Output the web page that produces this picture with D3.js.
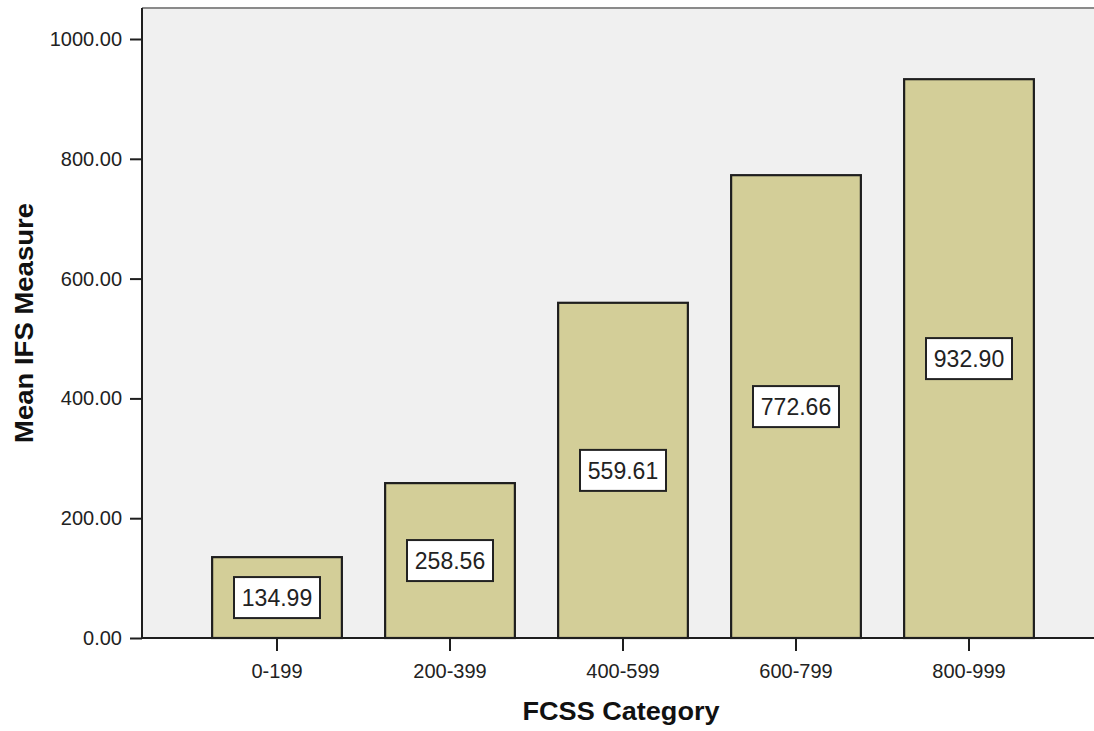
<!DOCTYPE html>
<html>
<head>
<meta charset="utf-8">
<script src="https://cdn.jsdelivr.net/npm/d3@7"></script>
<style>
  html, body { margin: 0; padding: 0; background: #ffffff; }
  svg { display: block; font-family: "Liberation Sans", Arial, sans-serif; }
</style>
</head>
<body>
<svg id="chart" width="1094" height="731"></svg>
<script>
// FCSS category bins and their mean IFS measure
const categories = ["0-199", "200-399", "400-599", "600-799", "800-999"];
const meanIFS = [134.99, 258.56, 559.61, 772.66, 932.90];
const yTicks = [0, 200, 400, 600, 800, 1000];

const svg = d3.select("#chart");
const W = 1094, H = 731;

const plotLeft = 142, plotTop = 8, plotBottom = 638, plotRight = W + 2;

const y = d3.scaleLinear().domain([0, 1000]).range([plotBottom, 39]);
const x = d3.scaleBand()
  .domain(categories)
  .range([190.5, 1055.5])
  .paddingInner(0.25)
  .paddingOuter(0.125);

// plot background
svg.append("rect")
  .attr("x", plotLeft).attr("y", plotTop)
  .attr("width", plotRight - plotLeft).attr("height", plotBottom - plotTop)
  .attr("fill", "#f0f0f0");

// top frame line
svg.append("line")
  .attr("x1", plotLeft).attr("x2", plotRight)
  .attr("y1", plotTop).attr("y2", plotTop)
  .attr("stroke", "#8a8a8a").attr("stroke-width", 2);

// bars
svg.append("g").selectAll("rect")
  .data(meanIFS)
  .join("rect")
  .attr("x", (d, i) => x(categories[i]))
  .attr("y", d => y(d))
  .attr("width", x.bandwidth())
  .attr("height", d => y(0) - y(d))
  .attr("fill", "#d3ce98")
  .attr("stroke", "#1e1e1e")
  .attr("stroke-width", 2.2);

// value labels, boxed, at the bar's mid height
const lbl = svg.append("g").selectAll("g")
  .data(meanIFS)
  .join("g")
  .attr("transform", (d, i) => `translate(${x(categories[i]) + x.bandwidth() / 2},${y(d / 2)})`);
lbl.append("rect")
  .attr("x", -43).attr("y", -20.5)
  .attr("width", 86).attr("height", 41)
  .attr("fill", "#ffffff")
  .attr("stroke", "#222222")
  .attr("stroke-width", 2);
lbl.append("text")
  .attr("text-anchor", "middle")
  .attr("dy", "0.36em")
  .attr("font-size", 23)
  .attr("fill", "#222")
  .text(d => d3.format(".2f")(d));

// y axis
const yAxis = svg.append("g")
  .attr("transform", `translate(${plotLeft},0)`)
  .call(d3.axisLeft(y).tickValues(yTicks).tickFormat(d3.format(".2f")).tickSize(12).tickPadding(8));
yAxis.select(".domain").attr("d", `M0,${plotTop}V${plotBottom}`).attr("stroke", "#1e1e1e").attr("stroke-width", 2);
yAxis.selectAll(".tick line").attr("stroke", "#1e1e1e").attr("stroke-width", 2);
yAxis.selectAll(".tick text").attr("font-size", 20).attr("fill", "#222").attr("font-family", "Liberation Sans, Arial, sans-serif");

// x axis
const xAxis = svg.append("g")
  .attr("transform", `translate(0,${plotBottom})`)
  .call(d3.axisBottom(x).tickSize(13).tickPadding(13));
xAxis.select(".domain").attr("d", `M${plotLeft},0H${plotRight}`).attr("stroke", "#1e1e1e").attr("stroke-width", 2);
xAxis.selectAll(".tick line").attr("stroke", "#1e1e1e").attr("stroke-width", 2);
xAxis.selectAll(".tick text").attr("font-size", 20).attr("fill", "#222").attr("font-family", "Liberation Sans, Arial, sans-serif");

// axis titles
svg.append("text")
  .attr("x", 621).attr("y", 720)
  .attr("text-anchor", "middle")
  .attr("font-size", 25).attr("font-weight", "bold").attr("fill", "#111")
  .attr("textLength", 197).attr("lengthAdjust", "spacingAndGlyphs")
  .text("FCSS Category");

svg.append("text")
  .attr("transform", "translate(33,323) rotate(-90)")
  .attr("text-anchor", "middle")
  .attr("font-size", 25).attr("font-weight", "bold").attr("fill", "#111")
  .attr("textLength", 240).attr("lengthAdjust", "spacingAndGlyphs")
  .text("Mean IFS Measure");
</script>
</body>
</html>
